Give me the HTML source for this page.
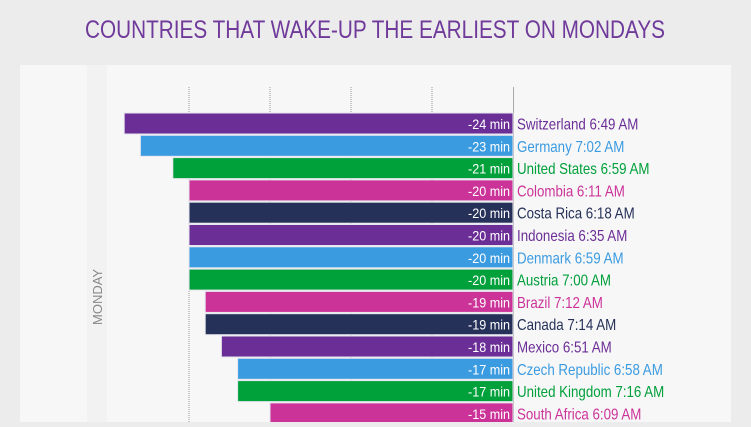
<!DOCTYPE html>
<html><head><meta charset="utf-8"><style>
body{margin:0;width:751px;height:422px;overflow:hidden;background:#ececec;font-family:"Liberation Sans Narrow","Liberation Sans",sans-serif}
</style></head><body>
<svg id="c" width="751" height="422" xmlns="http://www.w3.org/2000/svg">
<rect x="0" y="0" width="751" height="422" fill="#ececec"/>
<text x="375" y="38" text-anchor="middle" font-size="25" fill="#6f3a9a" textLength="580" lengthAdjust="spacingAndGlyphs">COUNTRIES THAT WAKE-UP THE EARLIEST ON MONDAYS</text>
<rect x="20" y="65" width="711" height="357" fill="#f7f7f8"/>
<rect x="87" y="65" width="20" height="357" fill="#f2f2f2"/>
<text transform="translate(102,325) rotate(-90)" font-size="13" fill="#888">MONDAY</text>
<g id="grid"></g><g id="bars"></g>
</svg>
<script>
const countries=["Switzerland","Germany","United States","Colombia","Costa Rica","Indonesia","Denmark","Austria","Brazil","Canada","Mexico","Czech Republic","United Kingdom","South Africa"];
const minutes=[-24,-23,-21,-20,-20,-20,-20,-20,-19,-19,-18,-17,-17,-15];
const times=["6:49 AM","7:02 AM","6:59 AM","6:11 AM","6:18 AM","6:35 AM","6:59 AM","7:00 AM","7:12 AM","7:14 AM","6:51 AM","6:58 AM","7:16 AM","6:09 AM"];
const colors=["#6b2e96","#3b9be0","#00a03a","#cc3399","#253158","#6b2e96","#3b9be0","#00a03a","#cc3399","#253158","#6b2e96","#3b9be0","#00a03a","#cc3399"];
const ticks=[-20,-15,-10,-5];
const NS="http://www.w3.org/2000/svg";
const x=v=>513+v*16.2;
const y=i=>113+i*22.3;
const g=document.getElementById('grid'),b=document.getElementById('bars');
function mk(t,a,p){const e=document.createElementNS(NS,t);for(const k in a)e.setAttribute(k,a[k]);p.appendChild(e);return e;}
ticks.forEach(t=>{
 const l=mk('line',{x1:x(t),x2:x(t),y1:87,y2:422,stroke:'#999','stroke-width':1,'stroke-dasharray':'1,1'},g);
 
 
});
const ax=mk('line',{x1:513.5,x2:513.5,y1:87,y2:422,stroke:'#aaa','stroke-width':1},g);


countries.forEach((c,i)=>{
 const r=mk('rect',{x:x(minutes[i]),y:y(i),width:513-x(minutes[i]),height:21,fill:colors[i],stroke:'#e6e6ee','stroke-width':1},b);
 
 
 const v=mk('text',{transform:'translate(510,'+(y(i)+16)+') scale(0.9,1)','text-anchor':'end','font-size':14,fill:'#fff'},b);
 v.textContent=minutes[i]+' min';
 
 
 const t=mk('text',{transform:'translate(517,'+(y(i)+16.5)+') scale(0.86,1)','font-size':15.5,fill:colors[i]},b);
 t.textContent=c+' '+times[i];
 
 
});
</script>
</body></html>
